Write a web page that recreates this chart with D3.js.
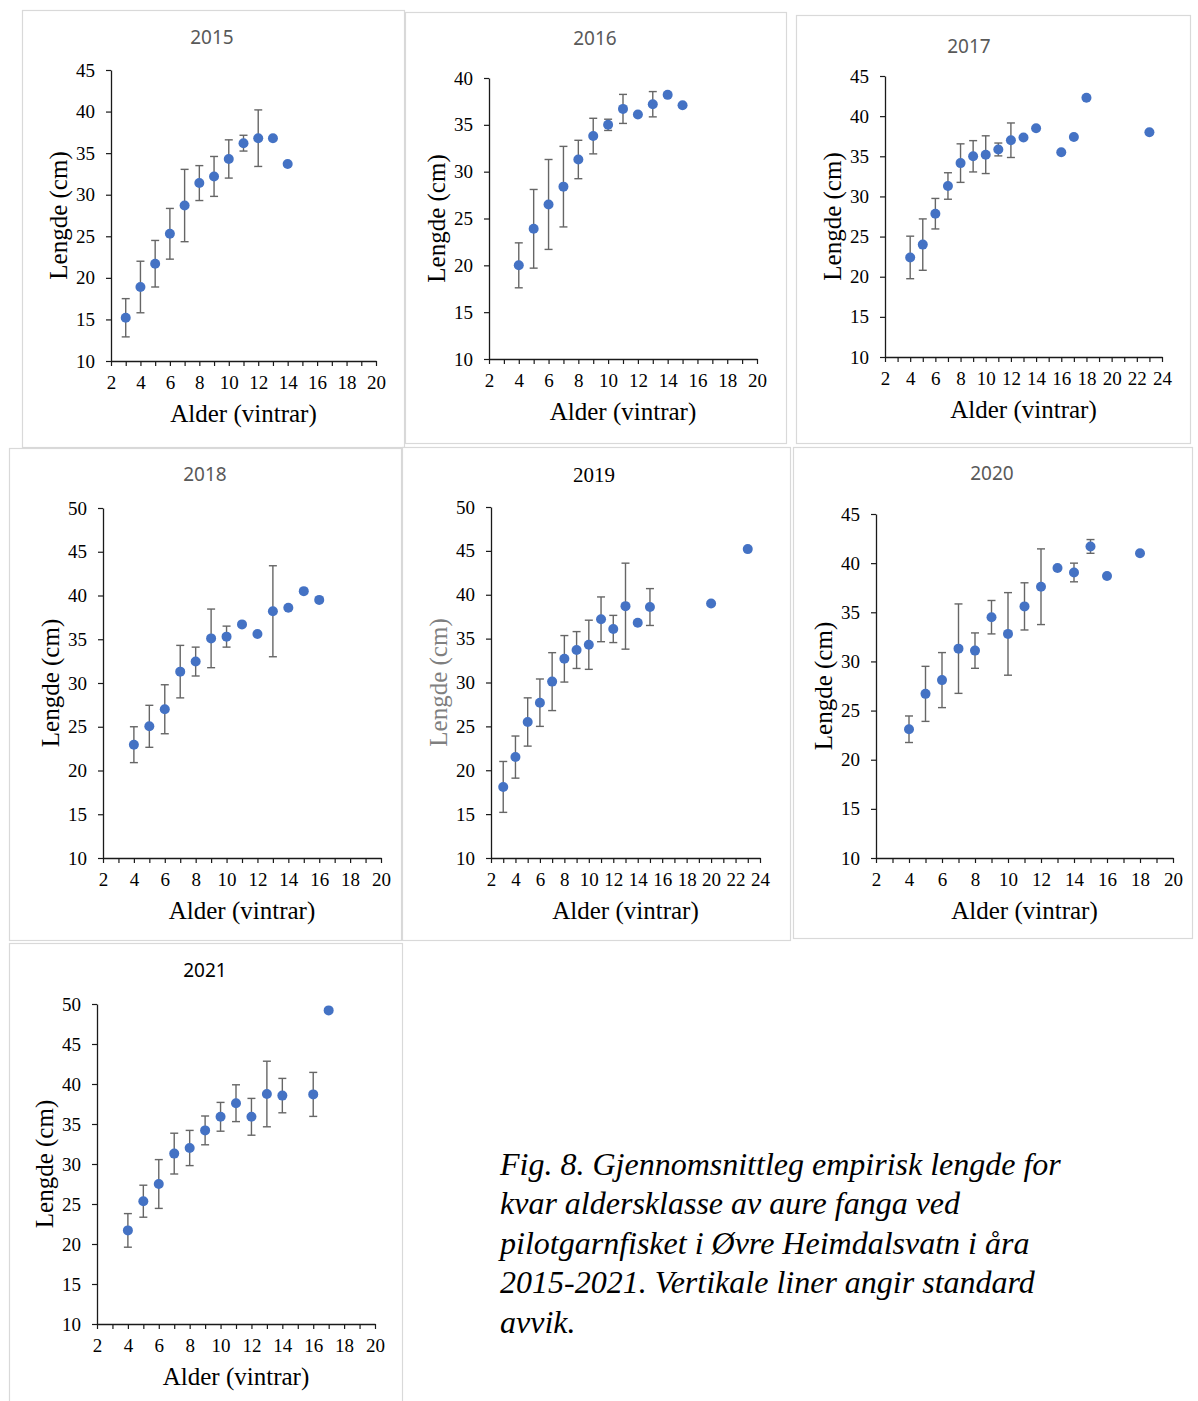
<!DOCTYPE html>
<html>
<head>
<meta charset="utf-8">
<script src="https://cdn.jsdelivr.net/npm/d3@7"></script>
<style>
  body { margin: 0; background: #fff; }
  svg text { font-family: "Liberation Serif", "Times New Roman", serif; }
</style>
</head>
<body>
<svg id="chart" width="1198" height="1401"></svg>
<script>
// Data: age (vintrar), mean length (cm), standard deviation (null = no bar)
const years = ["2015", "2016", "2017", "2018", "2019", "2020", "2021"];

const age2015 = [3, 4, 5, 6, 7, 8, 9, 10, 11, 12, 13, 14];
const len2015 = [15.2, 18.9, 21.7, 25.3, 28.7, 31.4, 32.2, 34.3, 36.2, 36.8, 36.8, 33.7];
const sd2015  = [2.3, 3.1, 2.8, 3.05, 4.35, 2.1, 2.4, 2.3, 0.95, 3.4, null, null];

const age2016 = [4, 5, 6, 7, 8, 9, 10, 11, 12, 13, 14, 15];
const len2016 = [20.0, 23.9, 26.5, 28.4, 31.3, 33.8, 35.0, 36.7, 36.1, 37.2, 38.2, 37.1];
const sd2016  = [2.4, 4.2, 4.8, 4.3, 2.05, 1.9, 0.6, 1.55, null, 1.35, null, null];

const age2017 = [4, 5, 6, 7, 8, 9, 10, 11, 12, 13, 14, 16, 17, 18, 23];
const len2017 = [22.4, 24.0, 27.85, 31.3, 34.15, 35.0, 35.2, 35.85, 37.0, 37.35, 38.5, 35.5, 37.4, 42.3, 38.0];
const sd2017  = [2.65, 3.2, 1.9, 1.65, 2.4, 1.95, 2.35, 0.8, 2.15, null, null, null, null, null, null];

const age2018 = [4, 5, 6, 7, 8, 9, 10, 11, 12, 13, 14, 15, 16];
const len2018 = [22.95, 25.05, 27.0, 31.3, 32.45, 35.1, 35.3, 36.7, 35.6, 38.2, 38.6, 40.5, 39.5];
const sd2018  = [2.05, 2.4, 2.8, 3.0, 1.65, 3.35, 1.2, null, null, 5.2, null, null, null];

const age2019 = [3, 4, 5, 6, 7, 8, 9, 10, 11, 12, 13, 14, 15, 20, 23];
const len2019 = [18.1, 21.5, 25.5, 27.7, 30.1, 32.7, 33.7, 34.3, 37.2, 36.1, 38.7, 36.8, 38.6, 39.0, 45.2];
const sd2019  = [2.9, 2.4, 2.75, 2.7, 3.3, 2.65, 2.1, 2.8, 2.55, 1.55, 4.9, null, 2.1, null, null];

const age2020 = [4, 5, 6, 7, 8, 9, 10, 11, 12, 13, 14, 15, 16, 18];
const len2020 = [23.1, 26.7, 28.1, 31.3, 31.1, 34.5, 32.8, 35.6, 37.6, 39.5, 39.05, 41.7, 38.7, 41.0];
const sd2020  = [1.35, 2.8, 2.8, 4.55, 1.8, 1.7, 4.2, 2.4, 3.85, null, 0.95, 0.7, null, null];

const age2021 = [4, 5, 6, 7, 8, 9, 10, 11, 12, 13, 14, 16, 17];
const len2021 = [21.7, 25.35, 27.5, 31.3, 32.0, 34.2, 35.9, 37.6, 35.9, 38.75, 38.55, 38.7, 49.2];
const sd2021  = [2.1, 2.0, 3.05, 2.55, 2.2, 1.8, 1.8, 2.3, 2.3, 4.1, 2.15, 2.75, null];

// Axis ranges per panel
const xMax = [20, 20, 24, 20, 24, 20, 20];
const yMin = [10, 10, 10, 10, 10, 10, 10];
const yMax = [45, 40, 45, 50, 50, 45, 50];

const xLabel = "Alder (vintrar)";
const yLabel = "Lengde (cm)";
const caption = [
  "Fig. 8. Gjennomsnittleg empirisk lengde for",
  "kvar aldersklasse av aure fanga ved",
  "pilotgarnfisket i Øvre Heimdalsvatn i åra",
  "2015-2021. Vertikale liner angir standard",
  "avvik."
];

const series = [
  [age2015, len2015, sd2015],
  [age2016, len2016, sd2016],
  [age2017, len2017, sd2017],
  [age2018, len2018, sd2018],
  [age2019, len2019, sd2019],
  [age2020, len2020, sd2020],
  [age2021, len2021, sd2021]
];

// Layout of each panel: frame box, plot box, title centre
const layout = [
  { frame: [22, 10, 404, 447],   plot: [111, 70, 376, 361],      title: [212, 37] },
  { frame: [405, 12, 786, 443],  plot: [489, 78, 757, 359],      title: [595, 38] },
  { frame: [796, 15, 1190, 443], plot: [885, 76, 1162, 357],     title: [969, 46] },
  { frame: [9, 448, 401, 940],   plot: [103, 508, 381, 858],     title: [205, 474] },
  { frame: [402, 447, 790, 940], plot: [491, 507, 760, 858],     title: [594, 475], serifTitle: true, greyY: true },
  { frame: [793, 447, 1192, 938],plot: [876, 514, 1173, 858],    title: [992, 473] },
  { frame: [9, 943, 402, 1410],  plot: [97, 1004, 375, 1324],    title: [205, 970], blackTitle: true }
];

const svg = d3.select("#chart");

years.forEach((year, i) => {
  const L = layout[i];
  const [age, len, sd] = series[i];
  const [px0, py0, px1, py1] = L.plot;

  // Panel frame
  svg.append("rect")
    .attr("x", L.frame[0] + 0.5)
    .attr("y", L.frame[1] + 0.5)
    .attr("width", L.frame[2] - L.frame[0])
    .attr("height", L.frame[3] - L.frame[1])
    .attr("fill", "#fff")
    .attr("stroke", "#d9d9d9")
    .attr("stroke-width", 1.2);

  const x = d3.scaleLinear().domain([2, xMax[i]]).range([px0, px1]);
  const y = d3.scaleLinear().domain([yMin[i], yMax[i]]).range([py1, py0]);

  // Title
  const title = svg.append("text")
    .attr("x", L.title[0])
    .attr("y", L.title[1])
    .attr("text-anchor", "middle")
    .attr("dominant-baseline", "central")
    .text(year);
  if (L.serifTitle) {
    title.style("font-size", "21px").style("fill", "#000");
  } else {
    title.style("font-family", "'Noto Sans', sans-serif")
      .style("font-size", "19px")
      .style("fill", L.blackTitle ? "#000" : "#595959");
  }

  // Y axis
  const yAxis = svg.append("g")
    .attr("transform", `translate(${px0},0)`)
    .call(d3.axisLeft(y)
      .tickValues(d3.range(yMin[i], yMax[i] + 1, 5))
      .tickSize(5)
      .tickPadding(11)
      .tickSizeOuter(0));

  // X axis, a tick every year, label every second
  const xAxis = svg.append("g")
    .attr("transform", `translate(0,${py1})`)
    .call(d3.axisBottom(x)
      .tickValues(d3.range(2, xMax[i] + 1, 1))
      .tickFormat(d => d % 2 === 0 ? d : "")
      .tickSize(5)
      .tickPadding(10)
      .tickSizeOuter(0));

  [yAxis, xAxis].forEach(g => {
    g.attr("font-family", null);
    g.select(".domain").attr("stroke", "#1a1a1a").attr("stroke-width", 1.3);
    g.selectAll(".tick line").attr("stroke", "#1a1a1a").attr("stroke-width", 1.2);
    g.selectAll(".tick text")
      .style("font-family", "'Liberation Serif', serif")
      .style("font-size", "19px")
      .attr("fill", "#000");
  });

  // Axis titles
  svg.append("text")
    .attr("x", (px0 + px1) / 2)
    .attr("y", py1 + 61)
    .attr("text-anchor", "middle")
    .style("font-size", "25px")
    .style("fill", "#000")
    .text(xLabel);

  const yl = px0 - 53;
  svg.append("text")
    .attr("transform", `translate(${yl},${(py0 + py1) / 2}) rotate(-90)`)
    .attr("text-anchor", "middle")
    .attr("dominant-baseline", "central")
    .style("font-size", "25px")
    .style("fill", L.greyY ? "#7f7f7f" : "#000")
    .text(yLabel);

  const pts = age.map((a, k) => ({ a: a, m: len[k], s: sd[k] }));

  // Error bars (standard deviation)
  const bars = svg.append("g")
    .attr("stroke", "#666")
    .attr("stroke-width", 1.4)
    .selectAll("g")
    .data(pts.filter(d => d.s != null))
    .join("g");

  bars.append("line")
    .attr("x1", d => x(d.a)).attr("x2", d => x(d.a))
    .attr("y1", d => y(d.m - d.s)).attr("y2", d => y(d.m + d.s));
  bars.append("line")
    .attr("x1", d => x(d.a) - 4).attr("x2", d => x(d.a) + 4)
    .attr("y1", d => y(d.m + d.s)).attr("y2", d => y(d.m + d.s));
  bars.append("line")
    .attr("x1", d => x(d.a) - 4).attr("x2", d => x(d.a) + 4)
    .attr("y1", d => y(d.m - d.s)).attr("y2", d => y(d.m - d.s));

  // Mean points
  svg.append("g")
    .selectAll("circle")
    .data(pts)
    .join("circle")
    .attr("cx", d => x(d.a))
    .attr("cy", d => y(d.m))
    .attr("r", 5)
    .attr("fill", "#4472c4");
});

// Figure caption
svg.append("text")
  .attr("x", 500)
  .attr("y", 1175)
  .style("font-family", "'Liberation Serif', serif")
  .style("font-size", "32px")
  .style("font-style", "italic")
  .style("fill", "#000")
  .selectAll("tspan")
  .data(caption)
  .join("tspan")
  .attr("x", 500)
  .attr("dy", (d, k) => k === 0 ? 0 : 39.4)
  .text(d => d);
</script>
</body>
</html>
